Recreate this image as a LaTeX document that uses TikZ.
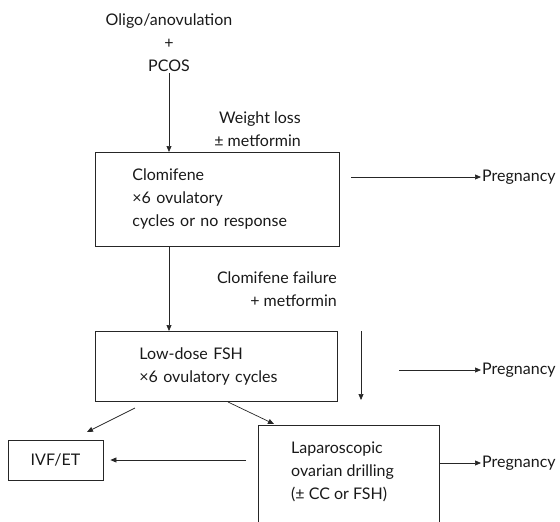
\documentclass[tikz,border=0pt]{standalone}
\usepackage{fontspec}
\setmainfont{Lato}
\usetikzlibrary{arrows.meta, positioning, calc}

\begin{document}
\begin{tikzpicture}[
  x=1pt, y=-1pt,
  every node/.style={font=\fontsize{16}{23}\selectfont, text=black!90},
  box/.style={rectangle, draw=black!85, line width=0.8pt, align=left, inner ysep=0pt},
  lbl/.style={align=center, inner sep=1pt},
  note/.style={align=right, inner sep=0pt},
  flow/.style={-{Triangle[length=6pt,width=5pt]}, line width=0.7pt, black!85}
]
  \useasboundingbox (0,0) rectangle (560,522);
  \clip (0,0) rectangle (560,522);

  \node[lbl](start) at (169,43) {Oligo/anovulation\\+\\PCOS};
  \node[box, anchor=north west, minimum width=242pt, minimum height=94pt, text width=170pt, inner xsep=37pt](clom) at (95,152) {Clomifene\\×6 ovulatory\\cycles or no response};
  \node[box, anchor=north west, minimum width=242pt, minimum height=70pt, text width=154pt, inner xsep=44pt](fsh) at (95,331) {Low-dose FSH\\×6 ovulatory cycles};
  \node[box, align=center, minimum width=95pt, minimum height=40pt](ivf) at (55.5,460) {IVF/ET};
  \node[box, anchor=north west, minimum width=181pt, minimum height=140pt](lap) at (258,425) {};
  \node[lbl, align=left, anchor=west, inner sep=0pt](laptxt) at (291,472) {Laparoscopic\\ovarian drilling\\(± CC or FSH)};

  \node[note, anchor=east](wloss) at (301,129) {Weight loss\\± metformin};
  \node[note, anchor=east](cfail) at (337,289) {Clomifene failure\\+ metformin};

  \node[lbl, anchor=west](preg1) at (481,177) {Pregnancy};
  \node[lbl, anchor=west](preg2) at (481,370) {Pregnancy};
  \node[lbl, anchor=west](preg3) at (481,463) {Pregnancy};

  \coordinate (r1) at (351,177);
  \coordinate (r2) at (399,370);
  \coordinate (d1) at (361,331);
  \coordinate (d2) at (361,400);
  \coordinate (g1) at (135,408);
  \coordinate (g2) at (87,432);
  \coordinate (h1) at (228,402);
  \coordinate (h2) at (274,424);
  \coordinate (l1) at (246,460);

  \draw[flow](start.south) -- (start.south |- clom.north);
  \draw[flow](clom.south -| start) -- (fsh.north -| start);
  \draw[flow](r1) -- (preg1.west);
  \draw[flow](r2) -- (preg2.west);
  \draw[flow](d1) -- (d2);
  \draw[flow](g1) -- (g2);
  \draw[flow](h1) -- (h2);
  \draw[flow, shorten >=7pt](l1) -- (ivf.east |- l1);
  \draw[flow](lap.north east |- preg3.west) -- (preg3.west);
\end{tikzpicture}
\end{document}
